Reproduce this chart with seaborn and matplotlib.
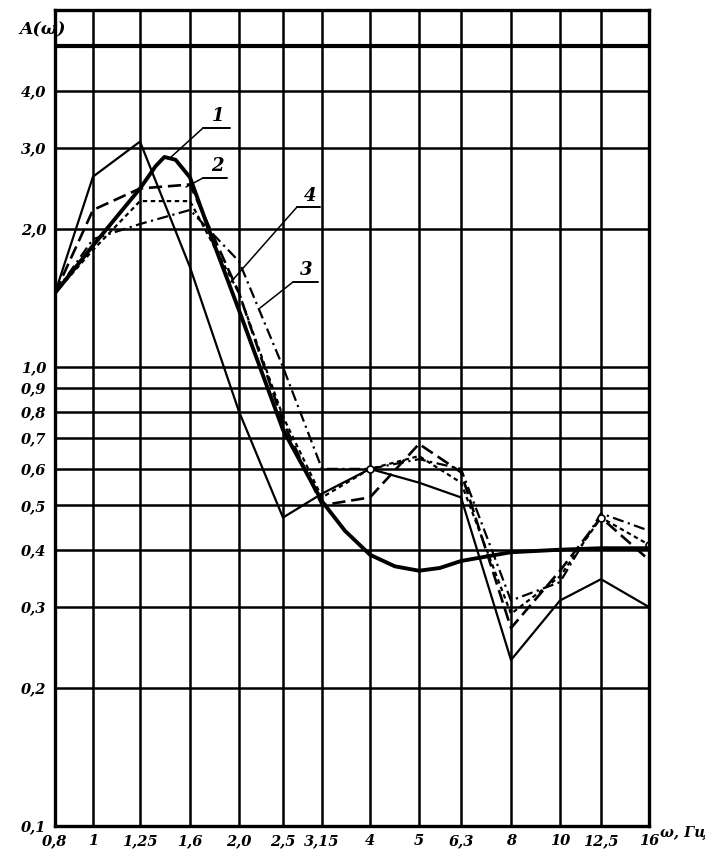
import numpy as np
import pandas as pd
import matplotlib
matplotlib.use("Agg")
import matplotlib.pyplot as plt
from matplotlib.ticker import FixedLocator, FixedFormatter, NullLocator
import seaborn as sns

# 1/3-octave frequencies, Hz
freq = [0.8, 1.0, 1.25, 1.6, 2.0, 2.5, 3.15, 4.0, 5.0, 6.3, 8.0, 10.0, 12.5, 16.0]
freq_labels = ["0,8", "1", "1,25", "1,6", "2,0", "2,5", "3,15", "4", "5", "6,3",
               "8", "10", "12,5", "16"]

# curve 1: smooth approximation
freq_1 = [0.8, 1.0, 1.25, 1.35, 1.41, 1.49, 1.6, 1.79, 2.0, 2.5, 3.15, 3.53,
          4.0, 4.48, 5.0, 5.61, 6.3, 8.0, 10.0, 12.5, 16.0]
amp_1 = [1.45, 1.84, 2.45, 2.74, 2.87, 2.83, 2.59, 1.84, 1.33, 0.73, 0.51, 0.44,
         0.39, 0.368, 0.36, 0.365, 0.378, 0.395, 0.40, 0.403, 0.403]

# measured curves
amp_thin = [1.45, 2.6, 3.1, 1.65, 0.80, 0.47, 0.53, 0.60, 0.56, 0.52, 0.23, 0.31, 0.345, 0.30]
amp_2 = [1.45, 2.2, 2.45, 2.5, 1.45, 0.76, 0.50, 0.52, 0.68, 0.59, 0.27, 0.36, 0.47, 0.38]
amp_3 = [1.45, 1.9, 2.05, 2.2, 1.7, 1.0, 0.60, 0.60, 0.63, 0.60, 0.31, 0.34, 0.48, 0.44]
amp_4 = [1.45, 1.8, 2.3, 2.3, 1.45, 0.78, 0.52, 0.60, 0.64, 0.56, 0.29, 0.35, 0.47, 0.41]

y_ticks = [0.1, 0.2, 0.3, 0.4, 0.5, 0.6, 0.7, 0.8, 0.9, 1.0, 2.0, 3.0, 4.0, 5.0]
y_labels = ["0,1", "0,2", "0,3", "0,4", "0,5", "0,6", "0,7", "0,8", "0,9",
            "1,0", "2,0", "3,0", "4,0", ""]

# hand-drawn grid: position of each frequency line along the axis
grid_pos = [0, 38, 85, 135, 184, 228, 267, 315, 364, 406, 456, 505, 546, 594]
log_f = np.log10(freq)


def fwd(f):
    f = np.clip(np.asarray(f, dtype=float), 1e-6, None)
    return np.interp(np.log10(f), log_f, grid_pos)


def inv(p):
    return 10 ** np.interp(np.asarray(p, dtype=float), grid_pos, log_f)


sns.set_theme(style="white")
plt.rcParams["font.family"] = ["DejaVu Serif", "Liberation Serif"]
font = dict(fontweight="bold", fontstyle="italic")

W, H = 709, 852
fig = plt.figure(figsize=(W / 100, H / 100), dpi=100)
ax = fig.add_axes([55 / W, 26 / H, 594 / W, 816 / H])
ax.set_xscale("function", functions=(fwd, inv))
ax.set_yscale("log")
ax.set_xlim(0.8, 16)
ax.set_ylim(0.1, 6.0)

ax.xaxis.set_major_locator(FixedLocator(freq))
ax.xaxis.set_major_formatter(FixedFormatter(freq_labels))
ax.xaxis.set_minor_locator(NullLocator())
ax.yaxis.set_major_locator(FixedLocator(y_ticks))
ax.yaxis.set_major_formatter(FixedFormatter(y_labels))
ax.yaxis.set_minor_locator(NullLocator())
ax.grid(True, which="major", color="black", lw=1.8)
ax.axhline(5.0, color="black", lw=3.0)
ax.tick_params(length=0, labelsize=10.5, colors="black")
ax.tick_params(axis="y", pad=6)
ax.tick_params(axis="x", pad=6)
for lab in ax.get_xticklabels() + ax.get_yticklabels():
    lab.set_fontweight("bold")
    lab.set_fontstyle("italic")
for sp in ax.spines.values():
    sp.set_color("black")
    sp.set_linewidth(2.4)

sns.lineplot(x=freq, y=amp_thin, ax=ax, color="black", lw=1.6)
sns.lineplot(x=freq, y=amp_2, ax=ax, color="black", lw=1.9, linestyle=(0, (5, 2.2)))
sns.lineplot(x=freq, y=amp_3, ax=ax, color="black", lw=1.6,
             linestyle=(0, (5, 2, 1, 2)))
sns.lineplot(x=freq, y=amp_4, ax=ax, color="black", lw=1.6,
             linestyle=(0, (2, 1.6)), marker="o", markersize=5,
             markevery=[7, 12, 13], markerfacecolor="white",
             markeredgecolor="black", markeredgewidth=1.2)
sns.lineplot(x=freq_1, y=amp_1, ax=ax, color="black", lw=2.8)


def af(px, py):
    return ((px - 55) / 594, (826 - py) / 816)


# curve numbers with leader lines
callouts = [
    ("1", (218, 116), (203, 230, 128), (170, 158)),
    ("2", (217, 166), (203, 227, 178), (186, 187)),
    ("4", (310, 196), (297, 320, 207), (230, 283)),
    ("3", (306, 270), (293, 318, 282), (260, 308)),
]
for text, tpos, (x0, x1, yu), tip in callouts:
    ax.text(*af(*tpos), text, transform=ax.transAxes, ha="center", va="center",
            fontsize=13, color="black", **font)
    xs, ys = zip(af(x0, yu), af(x1, yu))
    ax.plot(xs, ys, transform=ax.transAxes, color="black", lw=1.4, clip_on=False)
    xs, ys = zip(af(x0, yu), af(*tip))
    ax.plot(xs, ys, transform=ax.transAxes, color="black", lw=1.1, clip_on=False)

fig.text(43 / W, 1 - 30 / H, "A(ω)", ha="center", va="center", fontsize=12.5,
         color="black", **font)
fig.text(660 / W, 1 - 833 / H, "ω, Гц", ha="left", va="center", fontsize=10.5,
         color="black", **font)

fig.savefig("out.png", dpi=100)
